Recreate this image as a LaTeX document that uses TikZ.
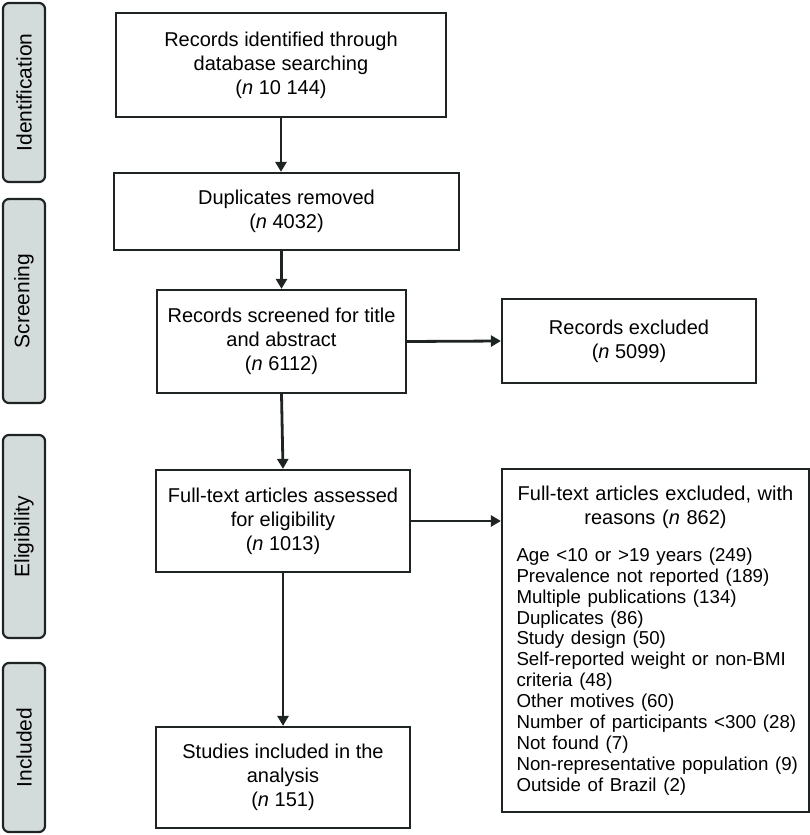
\documentclass[tikz,border=0pt]{standalone}
\usepackage{fontspec}
\setmainfont{Liberation Sans}
\usetikzlibrary{arrows.meta}
\definecolor{sidefill}{HTML}{D3DBDB}
\definecolor{edge}{HTML}{1E2424}
\begin{document}
\begin{tikzpicture}[x=1pt,y=-1pt,
  box/.style={draw=edge, line width=2.2pt, inner sep=0pt, align=center,
    font=\fontsize{20}{24}\selectfont},
  side/.style={draw=edge, fill=sidefill, line width=2.2pt, rounded corners=6pt,
    minimum height=42pt, inner sep=0pt, rotate=90,
    font=\fontsize{21}{24}\selectfont},
  arr/.style={line width=2.8pt, draw=edge, -{Triangle[width=11pt,length=10pt]}}]
\useasboundingbox (0,0) rectangle (810,835);

% side labels
\node[side, minimum width=179pt] (sid) at (24,92.5) {Identification};
\node[side, minimum width=204pt] (ssc) at (24,301) {Screening};
\node[side, minimum width=203pt] (sel) at (24,536.5) {Eligibility};
\node[side, minimum width=169pt] (sin) at (24,747.5) {Included};

% main boxes
\node[box, minimum width=330pt, minimum height=104pt] (id) at (281,65)
  {Records identified through\\database searching\\(\textit{n} 10 144)};
\node[box, minimum width=345pt, minimum height=77pt] (dup) at (286.5,211.5)
  {Duplicates removed\\(\textit{n} 4032)};
\node[box, minimum width=249pt, minimum height=103pt] (scr) at (281.5,341.5)
  {Records screened for title\\and abstract\\(\textit{n} 6112)};
\node[box, minimum width=254pt, minimum height=84pt] (rex) at (629,341)
  {Records excluded\\(\textit{n} 5099)};
\node[box, minimum width=254pt, minimum height=102pt] (ft) at (283,521)
  {Full-text articles assessed\\for eligibility\\(\textit{n} 1013)};
\node[box, minimum width=254pt, minimum height=101pt] (inc) at (283,777.5)
  {Studies included in the\\analysis\\(\textit{n} 151)};
\node[draw=edge, line width=2.2pt, minimum width=307pt, minimum height=343pt,
  text width=296pt, inner xsep=5.5pt, inner ysep=0pt,
  font=\fontsize{20}{24}\selectfont] (ftx) at (655.5,640.5)
  {\centering Full-text articles excluded, with\\reasons (\textit{n} 862)\par
   \vspace{16pt}%
   {\raggedright\leftskip=9pt\fontsize{18.7}{20.9}\selectfont
   Age <10 or >19 years (249)\\
   Prevalence not reported (189)\\
   Multiple publications (134)\\
   Duplicates (86)\\
   Study design (50)\\
   Self-reported weight or non-BMI\\
   criteria (48)\\
   Other motives (60)\\
   Number of participants <300 (28)\\
   Not found (7)\\
   Non-representative population (9)\\
   Outside of Brazil (2)\par}};

% connectors
\draw[arr] (id.south) -- (id.south |- dup.north);
\draw[arr] (scr.north |- dup.south) -- (scr.north);
\draw[arr] (scr.east) -- (rex.west);
\draw[arr] (scr.south) -- (ft.north);
\draw[arr] (ft.east) -- (ft.east -| ftx.west);
\draw[arr] (ft.south) -- (inc.north);
\end{tikzpicture}
\end{document}
